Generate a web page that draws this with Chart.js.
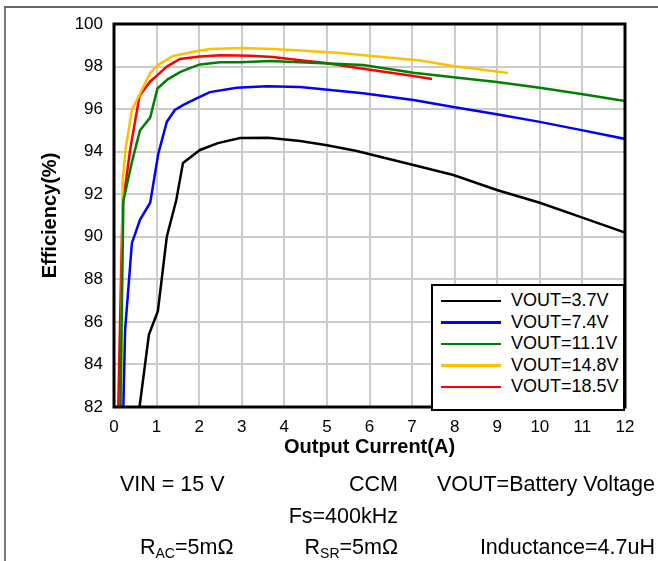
<!DOCTYPE html>
<html>
<head>
<meta charset="utf-8">
<script src="https://cdn.jsdelivr.net/npm/chart.js@4.4.1/dist/chart.umd.min.js"></script>
<style>
  html, body { margin: 0; padding: 0; background: #fff; }
  body { width: 658px; height: 561px; overflow: hidden; position: relative;
         font-family: "Liberation Sans", Arial, sans-serif; }
  #frame { position: absolute; left: 4px; top: 6px; right: 0; bottom: 0;
           border-top: 2px solid #666; border-left: 2px solid #777; }
  #chart-wrap { position: absolute; left: 0; top: 0; width: 658px; height: 561px; }
  #legend { position: absolute; left: 431px; top: 284px; width: 190px; height: 119px;
            border: 2px solid #000; background: #fff; padding-top: 4px; box-sizing: content-box; }
  #legend .item { height: 21.5px; display: flex; align-items: center; font-size: 18px; color: #000; }
  #legend .swatch { width: 60px; height: 2.5px; margin-left: 8px; margin-right: 10px; }
  .note { position: absolute; font-size: 21.5px; color: #000; white-space: nowrap; line-height: 24px; }
  .note sub { font-size: 14px; vertical-align: -4px; line-height: 0; }
</style>
</head>
<body>
<div id="frame"></div>
<div id="chart-wrap"><canvas id="effChart" width="658" height="561"></canvas></div>
<div id="legend"></div>

<div class="note" style="left:120px; top:472px;">VIN = 15 V</div>
<div class="note" style="right:260px; top:472px;">CCM</div>
<div class="note" style="right:3px; top:472px;">VOUT=Battery Voltage</div>
<div class="note" style="right:260px; top:504px;">Fs=400kHz</div>
<div class="note" style="left:140px; top:535px;">R<sub>AC</sub>=5mΩ</div>
<div class="note" style="right:260px; top:535px;">R<sub>SR</sub>=5mΩ</div>
<div class="note" style="right:3px; top:535px;">Inductance=4.7uH</div>

<script>
// Output current (A) / efficiency (%)
const current37 = [0.6, 0.82, 1.03, 1.24, 1.46, 1.62, 2.02, 2.44, 2.96, 3.62, 4.37, 5.0, 5.7, 7.03, 7.97, 8.99, 10.0, 11.0, 12.0];
const eff37     = [82, 85.4, 86.5, 90.0, 91.7, 93.47, 94.08, 94.4, 94.64, 94.65, 94.5, 94.3, 94.03, 93.37, 92.9, 92.2, 91.6, 90.9, 90.2];

const current74 = [0.22, 0.26, 0.42, 0.61, 0.85, 1.04, 1.24, 1.43, 1.63, 1.94, 2.25, 2.88, 3.58, 4.37, 5.85, 7.03, 7.97, 8.99, 10.0, 11.01, 12.0];
const eff74     = [82, 85.6, 89.7, 90.8, 91.6, 93.9, 95.4, 95.96, 96.2, 96.5, 96.8, 97.0, 97.08, 97.04, 96.75, 96.43, 96.1, 95.76, 95.4, 95.0, 94.6];

const current111 = [0.15, 0.22, 0.42, 0.61, 0.85, 1.02, 1.26, 1.55, 1.78, 2.02, 2.49, 2.96, 3.66, 4.37, 5.85, 7.03, 7.97, 8.99, 10.0, 11.01, 12.0];
const eff111     = [82, 91.7, 93.5, 95.0, 95.6, 96.97, 97.4, 97.74, 97.93, 98.1, 98.2, 98.2, 98.26, 98.2, 98.07, 97.71, 97.5, 97.27, 97.0, 96.7, 96.38];

const current148 = [0.17, 0.2, 0.27, 0.42, 0.85, 1.03, 1.39, 2.02, 2.25, 3.03, 3.73, 4.37, 5.31, 6.25, 7.19, 7.97, 9.25];
const eff148     = [82, 92.5, 94.1, 95.96, 97.7, 98.07, 98.5, 98.75, 98.82, 98.87, 98.83, 98.75, 98.64, 98.46, 98.28, 98.03, 97.7];

const current185 = [0.1, 0.2, 0.38, 0.6, 0.85, 1.08, 1.24, 1.55, 2.02, 2.49, 3.2, 3.73, 4.37, 4.92, 5.85, 7.03, 7.47];
const eff185     = [82, 91.4, 94.1, 96.63, 97.3, 97.7, 98.0, 98.36, 98.47, 98.53, 98.51, 98.45, 98.3, 98.18, 97.9, 97.56, 97.42];

const seriesLabels = ["VOUT=3.7V", "VOUT=7.4V", "VOUT=11.1V", "VOUT=14.8V", "VOUT=18.5V"];
const seriesColors = ["#000000", "#0000ff", "#008000", "#ffc000", "#ff0000"];

const xTicks = [0, 1, 2, 3, 4, 5, 6, 7, 8, 9, 10, 11, 12];
const yTicks = [82, 84, 86, 88, 90, 92, 94, 96, 98, 100];

const FONT = '"Liberation Sans", Arial, sans-serif';

function toPoints(xs, ys) {
  return xs.map((x, i) => ({ x: x, y: ys[i] }));
}

const allSeries = [
  toPoints(current37, eff37),
  toPoints(current74, eff74),
  toPoints(current111, eff111),
  toPoints(current148, eff148),
  toPoints(current185, eff185)
];

// black box round the plot area
const plotBorder = {
  id: 'plotBorder',
  afterDraw(chart) {
    const { ctx, chartArea } = chart;
    ctx.save();
    ctx.strokeStyle = '#000';
    ctx.lineWidth = 3;
    ctx.strokeRect(chartArea.left, chartArea.top,
      chartArea.right - chartArea.left, chartArea.bottom - chartArea.top);
    ctx.restore();
  }
};

const chart = new Chart(document.getElementById('effChart'), {
  type: 'line',
  data: {
    datasets: allSeries.map((pts, i) => ({
      label: seriesLabels[i],
      data: pts,
      borderColor: seriesColors[i],
      backgroundColor: seriesColors[i],
      borderWidth: 2.5,
      pointRadius: 0,
      tension: 0,
      fill: false
    }))
  },
  options: {
    responsive: false,
    animation: false,
    layout: { padding: { left: 0, top: 24, right: 33, bottom: 98 } },
    plugins: {
      legend: { display: false },
      tooltip: { enabled: false }
    },
    scales: {
      x: {
        type: 'linear',
        min: 0,
        max: 12,
        afterFit(scale) { scale.height = 56; },
        afterBuildTicks(scale) { scale.ticks = xTicks.map(v => ({ value: v })); },
        grid: { color: '#cccccc', lineWidth: 2, drawTicks: false },
        border: { display: false },
        ticks: { padding: 10, color: '#000', font: { family: FONT, size: 17 } },
        title: {
          display: true,
          text: 'Output Current(A)',
          color: '#000',
          font: { family: FONT, size: 20, weight: 'bold' },
          padding: { top: 0, bottom: 4 }
        }
      },
      y: {
        type: 'linear',
        min: 82,
        max: 100,
        afterFit(scale) { scale.width = 114; },
        afterBuildTicks(scale) { scale.ticks = yTicks.map(v => ({ value: v })); },
        grid: { color: '#cccccc', lineWidth: 2, drawTicks: false },
        border: { display: false },
        ticks: { padding: 11, color: '#000', font: { family: FONT, size: 17 } },
        title: {
          display: true,
          text: 'Efficiency(%)',
          color: '#000',
          font: { family: FONT, size: 20, weight: 'bold' },
          padding: { top: 38, bottom: 0 }
        }
      }
    }
  },
  plugins: [plotBorder]
});

// legend built from the datasets, placed inside the plot like the original
const legendBox = document.getElementById('legend');
chart.data.datasets.forEach(ds => {
  const item = document.createElement('div');
  item.className = 'item';
  item.innerHTML = `<span class="swatch" style="background:${ds.borderColor}"></span><span>${ds.label}</span>`;
  legendBox.appendChild(item);
});
</script>
</body>
</html>
